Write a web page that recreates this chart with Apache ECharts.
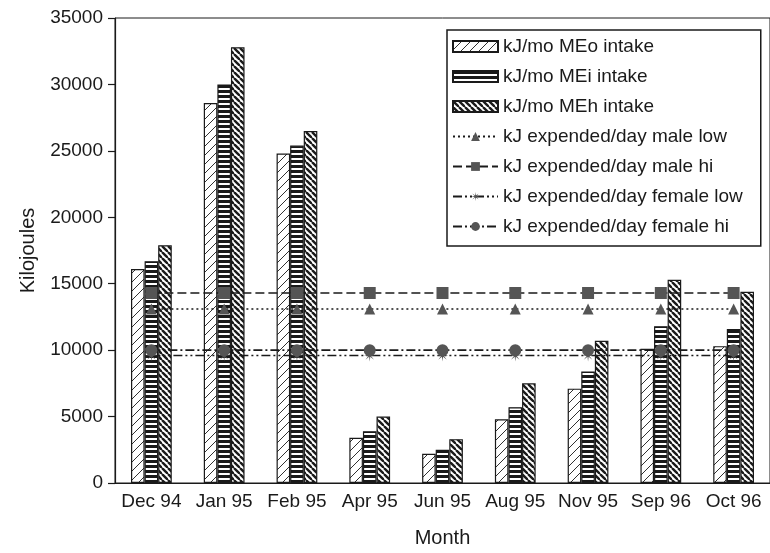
<!DOCTYPE html>
<html>
<head>
<meta charset="utf-8">
<script src="https://cdn.jsdelivr.net/npm/echarts@6/dist/echarts.min.js"></script>
<style>
  html, body { margin: 0; padding: 0; background: #fff; }
  #chart { width: 770px; height: 553px; }
</style>
</head>
<body>
<div id="chart"></div>
<script>
    "use strict";

    /*----data----*/
    var months = ['Dec 94', 'Jan 95', 'Feb 95', 'Apr 95', 'Jun 95', 'Aug 95', 'Nov 95', 'Sep 96', 'Oct 96'];
    var meoIntake = [16100, 28600, 24800, 3400, 2200, 4800, 7100, 10100, 10300];
    var meiIntake = [16700, 30000, 25400, 3900, 2500, 5700, 8400, 11800, 11600];
    var mehIntake = [17900, 32800, 26500, 5000, 3300, 7500, 10700, 15300, 14400];
    var maleLow = [13100, 13100, 13100, 13100, 13100, 13100, 13100, 13100, 13100];
    var maleHi = [14300, 14300, 14300, 14300, 14300, 14300, 14300, 14300, 14300];
    var femaleLow = [9600, 9600, 9600, 9600, 9600, 9600, 9600, 9600, 9600];
    var femaleHi = [10000, 10000, 10000, 10000, 10000, 10000, 10000, 10000, 10000];
    var yTicks = [0, 5000, 10000, 15000, 20000, 25000, 30000, 35000];

    var FONT = 'Liberation Sans, Arial, sans-serif';
    var INK = '#1a1a1a';

    // hatch fills for the bars
    function hatch(kind) {
        var c = document.createElement('canvas');
        var g;
        if (kind === 'i') {
            c.width = 4; c.height = 5;
            g = c.getContext('2d');
            g.fillStyle = '#fff'; g.fillRect(0, 0, 4, 5);
            g.fillStyle = INK; g.fillRect(0, 0, 4, 3);
            return c;
        }
        var s = kind === 'o' ? 9 : 6;
        c.width = s; c.height = s;
        g = c.getContext('2d');
        g.fillStyle = '#fff'; g.fillRect(0, 0, s, s);
        g.strokeStyle = INK;
        g.lineWidth = kind === 'o' ? 0.9 : 2.4;
        for (var o = -s; o <= s; o += s) {
            g.beginPath();
            if (kind === 'o') { g.moveTo(o, s); g.lineTo(o + s, 0); }
            else { g.moveTo(o, 0); g.lineTo(o + s, s); }
            g.stroke();
        }
        return c;
    }

    // asterisk marker
    function asterisk() {
        var p = 'path://';
        for (var k = 0; k < 16; k++) {
            var a = Math.PI * k / 8;
            var r = k % 2 === 0 ? 10 : 2.5;
            p += (k === 0 ? 'M' : 'L') + (10 + r * Math.sin(a)).toFixed(2) + ',' + (10 - r * Math.cos(a)).toFixed(2) + ' ';
        }
        return p + 'Z';
    }

    function barSeries(name, data, kind) {
        return {
            name: name,
            type: 'bar',
            data: data,
            barGap: '0%',
            barCategoryGap: '44%',
            itemStyle: {
                color: { image: hatch(kind), repeat: 'repeat' },
                borderColor: INK,
                borderWidth: 1.2
            }
        };
    }

    function lineSeries(name, data, symbol, size, dash) {
        return {
            name: name,
            type: 'line',
            data: data,
            symbol: symbol,
            symbolSize: size,
            z: 5,
            itemStyle: { color: '#555' },
            lineStyle: { color: INK, width: 1.6, type: dash }
        };
    }

    var seriesKj = [
        barSeries('kJ/mo MEo intake', meoIntake, 'o'),
        barSeries('kJ/mo MEi intake', meiIntake, 'i'),
        barSeries('kJ/mo MEh intake', mehIntake, 'h'),
        lineSeries('kJ expended/day male low', maleLow, 'triangle', 11, [2, 3]),
        lineSeries('kJ expended/day male hi', maleHi, 'rect', 12, [9, 4]),
        lineSeries('kJ expended/day female low', femaleLow, asterisk(), 12, [9, 3, 2, 3, 2, 3]),
        lineSeries('kJ expended/day female hi', femaleHi, 'circle', 12, [9, 3, 2, 3])
    ];

    var optionKj = {
        animation: false,
        textStyle: { fontFamily: FONT },
        grid: {
            top: 18,
            right: -3,
            bottom: 64,
            left: 115,
            show: true,
            borderColor: INK,
            borderWidth: 1
        },
        legend: {
            orient: 'vertical',
            left: 447,
            top: 30,
            padding: [7, 18, 10, 5],
            itemWidth: 45,
            itemHeight: 11,
            itemGap: 11,
            borderColor: INK,
            borderWidth: 1.5,
            backgroundColor: '#fff',
            textStyle: { fontSize: 19, color: INK, fontFamily: FONT },
            data: seriesKj.map(function (s) {
                return s.type === 'bar' ? { name: s.name, icon: 'rect' } : { name: s.name };
            })
        },
        xAxis: {
            type: 'category',
            data: months,
            name: 'Month',
            nameLocation: 'middle',
            nameGap: 45,
            nameTextStyle: { fontSize: 20, color: INK },
            axisLine: { lineStyle: { color: INK, width: 1.2 } },
            axisTick: { length: 6, lineStyle: { color: INK, width: 1.2 } },
            axisLabel: { fontSize: 19, color: INK, margin: 9, interval: 0 }
        },
        yAxis: {
            type: 'value',
            min: yTicks[0],
            max: yTicks[yTicks.length - 1],
            interval: 5000,
            name: 'Kilojoules',
            nameLocation: 'middle',
            nameGap: 77,
            nameTextStyle: { fontSize: 20, color: INK },
            splitLine: { show: false },
            axisLine: { show: true, lineStyle: { color: INK, width: 1.2 } },
            axisTick: { show: true, length: 7, lineStyle: { color: INK, width: 1.2 } },
            axisLabel: {
                fontSize: 19,
                color: INK,
                margin: 12,
                formatter: function (v) { return String(v); }
            }
        },
        series: seriesKj
    };

    var chartKj = echarts.init(document.getElementById('chart'));
    chartKj.setOption(optionKj);
</script>
</body>
</html>
